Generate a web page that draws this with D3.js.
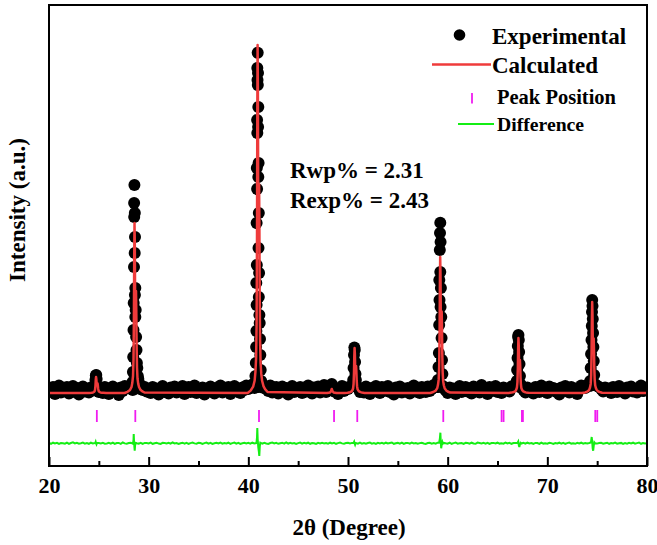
<!DOCTYPE html>
<html><head><meta charset="utf-8">
<script src="https://cdn.jsdelivr.net/npm/d3@7"></script>
<style>body{margin:0;background:#fff}svg{display:block}</style>
</head><body><svg id="c" width="657" height="545"></svg>
<script>
// ---------------- data ----------------
const xTickValues = [20, 30, 40, 50, 60, 70, 80];
const xMinorTickValues = [25, 35, 45, 55, 65, 75];

// experimental background, 2θ from 20 to 80 in 0.2° steps
const expBgStart = 20, expBgStep = 0.2;
const expBackground = [
770,745,790,720,760,805,735,775,750,790,
725,765,800,740,780,715,760,795,745,770,
735,785,755,810,760,740,775,730,790,750,
720,770,795,745,765,710,785,750,800,780,
790,805,760,820,800,775,810,760,790,745,
765,730,790,750,775,715,760,800,740,770,
725,785,755,795,735,770,745,800,720,760,
790,740,775,805,730,765,750,785,715,770,
745,795,760,725,780,750,805,735,770,755,
790,720,765,800,745,775,730,785,760,805,
770,790,815,800,810,790,820,785,800,770,
750,805,735,770,790,725,760,795,745,780,
715,765,800,740,775,755,790,730,770,745,
805,760,725,785,750,795,735,770,810,740,
765,790,780,745,775,720,760,800,750,785,
770,790,805,810,795,780,740,775,735,795,
755,720,780,745,800,765,730,790,750,770,
800,740,765,715,785,755,795,735,770,745,
780,725,760,805,745,775,730,790,760,740,
795,750,770,810,805,790,815,795,780,755,
730,785,750,775,720,765,800,740,760,790,
745,770,725,795,755,780,735,810,760,775,
720,790,750,765,800,740,775,730,785,755,
770,745,795,800,810,805,790,800,760,735,
785,750,770,725,790,760,740,805,755,775,
730,795,760,780,745,770,715,785,750,800,
760,735,790,745,775,720,765,805,795,780,
810,800,805,820,815,800,790,770,745,785,
755,775,730,790,765,740,800,750,770,725,
785,760,795,745,770,735,780,805,750,765,
775];

// experimental points on the reflections [2θ, intensity]
const expPeakPoints = [
[24.6,800],[24.66,860],[24.7,905],[24.74,910],[24.78,870],[24.84,800],
[28.34,780],[28.38,840],[28.42,940],[28.45,1090],[28.48,1360],[28.50,1630],[28.53,1990],[28.55,2490],[28.54,2630],[28.57,2810],
[28.61,2530],[28.63,2290],[28.60,2130],[28.66,1780],[28.62,1710],[28.70,1560],[28.66,1490],[28.74,1290],[28.78,1160],[28.82,1030],
[28.86,980],[28.91,900],[28.96,870],[29.02,810],
[40.62,780],[40.67,810],[40.71,900],[40.75,1030],[40.78,1190],[40.81,1350],[40.83,1610],[40.80,1830],[40.85,2010],[40.83,2430],
[40.88,2770],[40.85,2980],[40.90,3330],[40.88,3460],[40.92,3860],[40.90,3980],[40.94,4133],[40.97,3930],[40.95,3810],[41.00,3590],
[40.98,3390],[41.03,3030],[41.00,2890],[41.05,2530],[41.02,2180],[41.08,1930],[41.05,1690],[41.11,1510],[41.14,1430],[41.17,1270],
[41.20,1110],[41.24,960],[41.29,850],
[48.3,790],[48.37,820],[48.44,790],
[50.52,860],[50.56,980],[50.60,1110],[50.64,1185],[50.68,1160],[50.71,1040],[50.75,920],[50.79,860],[50.84,800],
[58.98,790],[59.03,860],[59.08,990],[59.12,1130],[59.15,1410],[59.18,1660],[59.16,1860],[59.21,2160],[59.23,2330],[59.26,2433],
[59.29,2240],[59.26,1940],[59.32,1780],[59.29,1590],[59.36,1490],[59.39,1280],[59.43,1060],[59.47,920],[59.52,800],
[66.93,850],[66.97,960],[67.01,1080],[67.04,1200],[67.07,1290],[67.10,1310],[67.14,1260],[67.17,1140],[67.21,1020],[67.25,900],[67.30,820],
[74.30,850],[74.35,980],[74.39,1120],[74.43,1260],[74.46,1400],[74.48,1540],[74.50,1660],[74.53,1600],[74.56,1470],[74.59,1330],
[74.62,1190],[74.66,1050],[74.70,910],[74.75,820]
];

// calculated profile [2θ, intensity]
const calcProfile = [
[20,730],
[23.72,730],[24.02,731],[24.27,733],[24.42,736],[24.5,740],[24.57,746],[24.62,762],[24.66,802],[24.69,858],[24.72,890],[24.75,869],[24.78,822],[24.82,810],[24.87,826],[24.9,807],[24.93,776],[24.97,754],[25.02,744],[25.09,739],[25.17,736],[25.32,733],[25.47,732],[25.72,730],
[27.58,730],[27.88,742],[28.13,761],[28.28,790],[28.36,832],[28.43,900],[28.48,1070],[28.52,1495],[28.55,2090],[28.58,2430],[28.61,2209],[28.64,1708],[28.68,1580],[28.73,1750],[28.76,1546],[28.79,1215],[28.83,985],[28.88,875],[28.95,824],[29.03,790],[29.18,762],[29.33,749],[29.58,735],
[39.93,730],[40.23,754],[40.48,793],[40.63,852],[40.71,939],[40.78,1078],[40.83,1426],[40.87,2296],[40.9,3514],[40.93,4210],[40.96,3758],[40.99,2731],[41.03,2470],[41.08,2818],[41.11,2400],[41.14,1722],[41.18,1252],[41.23,1026],[41.3,921],[41.38,852],[41.53,796],[41.68,768],[41.93,740],
[47.9,730],[48.2,736],[48.3,748],[48.37,770],[48.44,748],[48.55,736],[48.85,730],
[49.66,730],[49.96,733],[50.21,738],[50.36,746],[50.44,757],[50.51,775],[50.56,820],[50.6,933],[50.63,1090],[50.66,1180],[50.69,1122],[50.72,989],[50.76,955],[50.81,1000],[50.84,946],[50.87,858],[50.91,798],[50.96,768],[51.03,755],[51.11,746],[51.26,739],[51.41,735],[51.66,731],
[58.25,730],[58.55,740],[58.8,754],[58.95,778],[59.03,812],[59.1,866],[59.15,1002],[59.19,1342],[59.22,1818],[59.25,2090],[59.28,1913],[59.31,1512],[59.35,1410],[59.4,1546],[59.43,1383],[59.46,1118],[59.5,934],[59.55,846],[59.62,805],[59.7,778],[59.85,756],[60.0,745],[60.25,734],
[66.1,730],[66.4,734],[66.65,740],[66.8,749],[66.88,763],[66.95,785],[67.0,840],[67.04,978],[67.07,1170],[67.1,1280],[67.13,1209],[67.16,1046],[67.2,1005],[67.25,1060],[67.28,994],[67.31,887],[67.35,813],[67.4,777],[67.47,760],[67.55,749],[67.7,740],[67.85,736],[68.1,732],
[73.5,730],[73.8,736],[74.05,746],[74.2,762],[74.28,785],[74.35,821],[74.4,912],[74.44,1140],[74.47,1458],[74.5,1640],[74.53,1522],[74.56,1253],[74.6,1185],[74.65,1276],[74.68,1167],[74.71,989],[74.75,867],[74.8,807],[74.87,780],[74.95,762],[75.1,747],[75.25,740],[75.5,733],
[80,730]
];

// difference (obs - calc): background noise on the same 0.2° grid, plus the residuals at the reflections
const diffNoise = [
3,-5,6,-2,4,-7,2,0,-4,6,
-6,3,9,-2,5,-4,1,7,-3,2,
-5,6,-1,3,-7,2,-2,4,-4,-1,
5,-3,7,-6,2,4,-5,8,-1,-4,
3,6,-4,2,0,-3,5,-6,4,2,
-2,7,-5,1,6,-3,-7,4,2,-1,
5,-4,8,-2,3,-6,1,6,-3,4,
-5,2,7,-1,-4,5,3,-6,2,8,
-3,4,-6,1,5,-2,7,-4,3,-1,
6,-5,2,8,-3,4,-6,1,5,-2,
4,-3,6,-1,3,0,2,-4,5,-2,
-6,3,7,-2,4,-5,1,6,-3,9,
-4,5,-1,3,-6,2,8,-3,4,-2,
6,-5,3,1,-7,4,-2,5,-1,3,
-3,6,-2,4,-5,2,7,-1,-4,3,
5,-2,4,0,3,-3,6,-4,2,-5,
3,7,-3,2,-6,5,-1,4,-4,6,
-2,3,8,-5,1,4,-3,6,-6,2,
4,-4,7,-1,3,-5,2,5,-2,-6,
3,5,-3,2,-4,6,1,-2,4,0,
-3,6,-5,2,8,-4,1,3,-6,5,
2,-4,6,-2,-5,7,3,-1,4,-3,
5,-6,2,4,-1,6,-3,1,-4,7,
-2,4,-5,3,2,-3,1,-2,5,-4,
6,-1,3,-5,4,2,-6,7,-3,1,
-4,5,2,-6,3,-1,6,-3,4,-5,
2,7,-3,1,-5,4,-2,6,-4,3,
-1,3,-2,4,0,-3,2,5,-4,1,
6,-5,3,-2,7,-4,1,4,-6,2,
-3,5,-1,6,-4,2,8,-5,3,-2,
1];
const diffResiduals = [
[[24.64,3],[24.68,14],[24.72,-2],[24.76,-10],[24.8,2]],
[[28.44,6],[28.48,35],[28.5,92],[28.53,20],[28.57,-40],[28.6,-74],[28.64,-20],[28.7,4]],
[[40.82,6],[40.87,60],[40.9,153],[40.94,40],[41.0,-40],[41.06,-85],[41.1,-127],[41.15,-30],[41.2,6]],
[[50.56,3],[50.62,16],[50.67,-3],[50.71,-14],[50.76,2]],
[[59.15,8],[59.22,50],[59.27,106],[59.3,30],[59.35,-50],[59.4,-15],[59.47,12],[59.52,-4]],
[[67.0,4],[67.08,18],[67.14,-20],[67.19,-37],[67.25,-10],[67.32,5]],
[[74.38,8],[74.45,63],[74.5,20],[74.55,-50],[74.6,-74],[74.66,-20],[74.72,10]]
];

// Bragg peak positions
const peakPositions = [24.8, 28.66, 41.07, 48.6, 50.93, 59.56, 65.41, 65.61, 67.45, 67.55, 74.81, 75.01];

const legendLabels = ["Experimental", "Calculated", "Peak Position", "Difference"];
const statLabels = ["Rwp% = 2.31", "Rexp% = 2.43"];
const xTitle = "2θ (Degree)";
const yTitle = "Intensity (a.u.)";

// ---------------- drawing ----------------
const FONT = "'Liberation Serif','Times New Roman',serif";
const diffOffset = 227;
const tickTop = 560, tickBottom = 440;
const RED = "#ef3b3b", GREEN = "#14ee14", MAGENTA = "#f01cf0";

const svg = d3.select("#c");
const x = d3.scaleLinear().domain([20, 80]).range([49, 647]);
const y = d3.scaleLinear().domain([0, 4610]).range([466, 5]);

svg.append("defs").append("clipPath").attr("id", "plot")
  .append("rect").attr("x", 49).attr("y", 5).attr("width", 598).attr("height", 461);

const g = svg.append("g").attr("clip-path", "url(#plot)");

const expPoints = expBackground.map((v, i) => [+(expBgStart + expBgStep * i).toFixed(2), v]).concat(expPeakPoints);

g.append("g").selectAll("circle").data(expPoints).join("circle")
  .attr("cx", d => x(d[0])).attr("cy", d => y(d[1])).attr("r", 6).attr("fill", "#000");

const line = d3.line().x(d => x(d[0])).y(d => y(d[1]));
g.append("path").datum(calcProfile).attr("d", line)
  .attr("fill", "none").attr("stroke", RED).attr("stroke-width", 2.5).attr("stroke-linejoin", "round");

// peak position ticks
g.append("g").selectAll("line").data(peakPositions).join("line")
  .attr("x1", d => x(d)).attr("x2", d => x(d))
  .attr("y1", y(tickTop)).attr("y2", y(tickBottom))
  .attr("stroke", MAGENTA).attr("stroke-width", 1.8);

// difference
const windows = diffResiduals.map(s => [s[0][0], s[s.length - 1][0]]);
let diffPts = diffNoise.map((v, i) => [+(expBgStart + expBgStep * i).toFixed(2), v])
  .filter(p => !windows.some(w => p[0] >= w[0] && p[0] <= w[1]));
diffResiduals.forEach(s => diffPts = diffPts.concat(s));
diffPts.sort((a, b) => a[0] - b[0]);
g.append("path").datum(diffPts)
  .attr("d", d3.line().x(d => x(d[0])).y(d => y(d[1] + diffOffset)))
  .attr("fill", "none").attr("stroke", GREEN).attr("stroke-width", 2);

// frame
svg.append("rect").attr("x", 49).attr("y", 5).attr("width", 598).attr("height", 461)
  .attr("fill", "none").attr("stroke", "#000").attr("stroke-width", 2);

// x axis (ticks inward)
const ax = svg.append("g").attr("transform", "translate(0,466)")
  .call(d3.axisBottom(x).tickValues(xTickValues).tickSize(-9).tickPadding(11).tickFormat(d3.format("d")));
ax.select(".domain").remove();
ax.selectAll(".tick line").attr("stroke-width", 2);
ax.selectAll("text").attr("font-family", FONT).attr("font-weight", "bold").attr("font-size", 22).attr("fill", "#000");
const axm = svg.append("g").attr("transform", "translate(0,466)")
  .call(d3.axisBottom(x).tickValues(xMinorTickValues).tickSize(-5).tickFormat(""));
axm.select(".domain").remove();
axm.selectAll(".tick line").attr("stroke-width", 2);

// titles
svg.append("text").attr("x", 349).attr("y", 535).attr("text-anchor", "middle")
  .attr("font-family", FONT).attr("font-weight", "bold").attr("font-size", 23).text(xTitle);
svg.append("text").attr("transform", "translate(25,210) rotate(-90)").attr("text-anchor", "middle")
  .attr("font-family", FONT).attr("font-weight", "bold").attr("font-size", 23).text(yTitle);

// stats
svg.selectAll(".stat").data(statLabels).join("text").attr("class", "stat")
  .attr("x", 290).attr("y", (d, i) => 178 + 30 * i)
  .attr("font-family", FONT).attr("font-weight", "bold").attr("font-size", 23).text(d => d);

// legend
const lg = svg.append("g");
lg.append("circle").attr("cx", 459.5).attr("cy", 35).attr("r", 5.8).attr("fill", "#000");
lg.append("line").attr("x1", 432).attr("x2", 491).attr("y1", 64.5).attr("y2", 64.5).attr("stroke", RED).attr("stroke-width", 2.5);
lg.append("line").attr("x1", 472).attr("x2", 472).attr("y1", 93).attr("y2", 103.5).attr("stroke", MAGENTA).attr("stroke-width", 1.8);
lg.append("line").attr("x1", 458).attr("x2", 494).attr("y1", 124).attr("y2", 124).attr("stroke", GREEN).attr("stroke-width", 2);
const legendPos = [[492, 44, 23], [492, 73, 23], [497, 103.5, 20.5], [497, 130.5, 19.7]];
lg.selectAll("text").data(legendLabels).join("text")
  .attr("x", (d, i) => legendPos[i][0]).attr("y", (d, i) => legendPos[i][1])
  .attr("font-size", (d, i) => legendPos[i][2])
  .attr("font-family", FONT).attr("font-weight", "bold").text(d => d);
</script></body></html>
